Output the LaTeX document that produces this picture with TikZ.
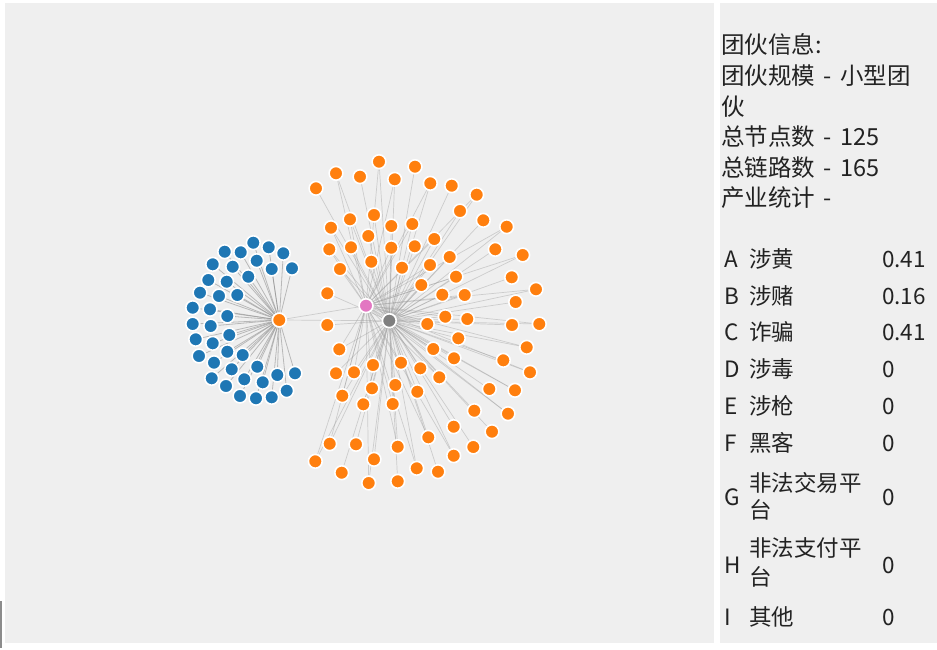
\documentclass[tikz,border=0pt]{standalone}
\usepackage{fontspec}
\setmainfont{Noto Sans CJK SC}
\definecolor{panel}{HTML}{EFEFEF}
\definecolor{cblue}{HTML}{1F77B4}
\definecolor{corange}{HTML}{FF7F0E}
\definecolor{cpink}{HTML}{E377C2}
\definecolor{cgray}{HTML}{7F7F7F}
\definecolor{txt}{HTML}{222222}
\pgfdeclarelayer{back}
\pgfdeclarelayer{bg}
\pgfsetlayers{back,bg,main}
\newcommand{\dsh}{\hspace{0.36em}-\hspace{0.36em}}
\begin{document}
\begin{tikzpicture}[x=1pt,y=-1pt,
  dot/.style={circle,draw=white,line width=1.6pt,minimum size=13.8pt,inner sep=0pt},
  bluedot/.style={dot,fill=cblue},
  orangedot/.style={dot,fill=corange},
  link/.style={draw=black!40,opacity=0.4,line width=0.7pt},
  darklink/.style={draw=black!45,opacity=0.55,line width=0.8pt},
  info/.style={anchor=base west,inner sep=0pt,text=txt,font=\fontsize{23.5}{31}\selectfont},
  row/.style={anchor=base west,inner sep=0pt,text=txt,font=\fontsize{22.5}{27}\selectfont}]
\useasboundingbox (0,0) rectangle (937,649);
\begin{pgfonlayer}{back}
\fill[white] (0,0) rectangle (937,649);
\fill[panel] (5,3) rectangle (714,643);
\fill[panel] (720,3) rectangle (937,643);
\fill[black!45] (0,601) rectangle (2,648);
\end{pgfonlayer}
% hubs
\node[orangedot] (h) at (279.3,320) {};
\node[dot,fill=cpink] (p) at (366,305.7) {};
\node[dot,fill=cgray] (g) at (389.3,320.7) {};
% blue nodes
\foreach \x/\y [count=\i] in {253.3/242.7, 268.7/247.3, 283.3/253.3, 224.7/251.7, 240.7/252.3, 212.7/264.3, 232.7/266.7, 256.7/260.7, 271.7/269, 292/268.3, 208.3/280, 226.7/281.7, 248.3/276.7, 200/292.7, 219/296, 237.3/295, 192.7/307.7, 210/309.3, 227.3/316, 192.7/324, 210.7/326, 229.3/335, 195.7/339.3, 212.7/343.3, 227.3/351.7, 242.7/355, 199/356, 214/362.7, 231.7/369.3, 257.3/366.7, 211.7/378.3, 244.3/379.3, 262.7/382.3, 277.3/375, 295/373.3, 226/386, 286.7/390.7, 240/396, 256/398.3, 271.7/397.3}
  \node[bluedot] (b\i) at (\x,\y) {};
% orange nodes
\foreach \x/\y [count=\i] in {379/161.7, 415/166.7, 336/173.3, 360/176.7, 394.7/179.3, 316/188.3, 430.3/183.3, 451.7/185.7, 476.7/194.7, 460/211, 350/219.3, 374/215, 331/227.7, 391.3/226, 412.3/224, 483.3/220.3, 506.7/226.7, 368.3/236, 329.3/249.3, 351/247.3, 391.3/247.7, 414.7/246.3, 434.3/239, 495.3/249.3, 522.7/255, 371.3/261.7, 340/269, 402/267.7, 430/265, 449.7/257, 456/276.7, 511.7/277.3, 536/289.3, 327.3/293.3, 421.3/285, 442.3/294.7, 464.7/295, 515.7/302, 445.3/316.7, 467.3/319, 427.3/324, 512/325, 539.3/324, 327.3/325, 339.3/349.3, 458.3/338.3, 433.3/349, 454/358.3, 526.7/347.3, 503.3/360.3, 530/372.3, 336/373.3, 354/372.3, 373/365, 401/362.7, 420.3/368.3, 439.3/377.3, 395.3/385, 372/388.3, 417.3/391.7, 342.3/395.7, 363.3/404.3, 392.7/404, 489.3/389, 515/390.3, 474.3/410.7, 508/413.7, 453.7/426.7, 428.3/437.3, 492/431.7, 329.7/443.7, 356/444.3, 397.7/446.7, 473.3/447, 315.3/461.3, 374/459.3, 453.7/455.7, 341.7/472.7, 416.7/468.3, 438/471.7, 368.7/483, 397.7/481.3}
  \node[orangedot] (o\i) at (\x,\y) {};
% links
\begin{pgfonlayer}{bg}
\foreach \i in {1,...,40} \draw[darklink] (h) -- (b\i);
\foreach \i in {1,...,82} \draw[link] (g) -- (o\i);
\foreach \i in {1,3,...,81} \draw[link] (p) -- (o\i);
\draw[link] (h) -- (p);
\draw[link] (h) -- (g);
\end{pgfonlayer}
% info panel
\node[info] (t1) at (721,53.5) {团伙信息:};
\node[info] (t2) at (721,84.5) {团伙规模\dsh 小型团};
\node[info] (t3) at (721,115) {伙};
\node[info] (t4) at (721,145.5) {总节点数\dsh 125};
\node[info] (t5) at (721,176) {总链路数\dsh 165};
\node[info] (t6) at (721,206.5) {产业统计\dsh};
% table
\foreach \l/\n/\v/\y [count=\i] in {A/涉黄/0.41/267.5, B/涉赌/0.16/304.5, C/诈骗/0.41/340.5, D/涉毒/0/377.5, E/涉枪/0/414.5, F/黑客/0/451.5, I/其他/0/625.5}{
  \node[row] (l\i) at (724,\y) {\l};
  \node[row] (n\i) at (749,\y) {\n};
  \node[row] (v\i) at (882,\y) {\v};
}
\node[row] (lg) at (724,505.5) {G};
\node[row] (ng1) at (749,491.5) {非法交易平};
\node[row] (ng2) at (749,518.5) {台};
\node[row] (vg) at (882,505.5) {0};
\node[row] (lh) at (724,573.5) {H};
\node[row] (nh1) at (749,556.5) {非法支付平};
\node[row] (nh2) at (749,585.5) {台};
\node[row] (vh) at (882,573.5) {0};
\end{tikzpicture}
\end{document}
